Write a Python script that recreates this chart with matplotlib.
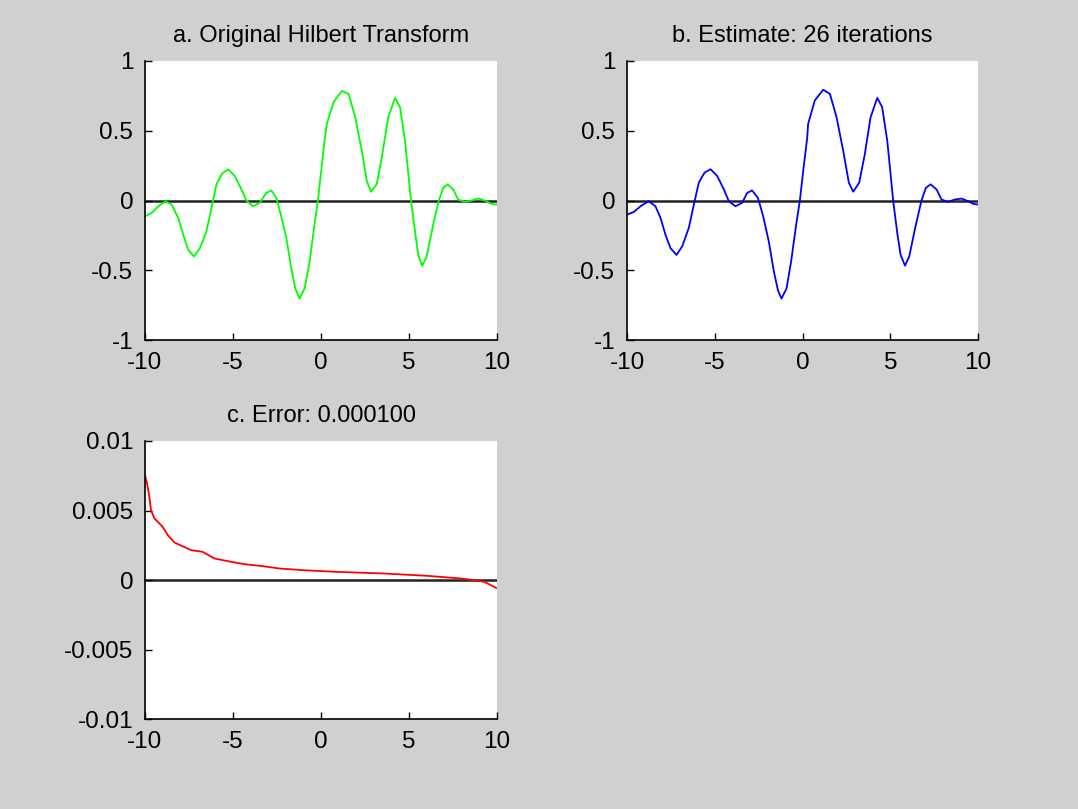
import matplotlib.pyplot as plt

# values
orig_x = [-10, -9.62, -9.24, -8.83, -8.49, -8.11, -7.83, -7.54, -7.22, -6.88, -6.51, -6.22, -5.94,
          -5.62, -5.28, -4.90, -4.52, -4.24, -3.86, -3.48, -3.11, -2.82, -2.54, -2.26, -1.97, -1.69,
          -1.46, -1.22, -0.93, -0.65, -0.37, -0.18, 0.01, 0.20, 0.33, 0.71, 1.18, 1.56, 1.94, 2.32,
          2.60, 2.84, 3.16, 3.45, 3.82, 4.20, 4.49, 4.77, 4.96, 5.11, 5.34, 5.52, 5.75, 6.00, 6.37,
          6.69, 6.94, 7.19, 7.51, 7.79, 8.17, 8.55, 8.92, 9.30, 9.68, 10]
orig_y = [-0.113, -0.089, -0.041, -0.005, -0.029, -0.125, -0.245, -0.354, -0.402, -0.342, -0.221,
          -0.053, 0.116, 0.193, 0.224, 0.176, 0.079, 0.0, -0.041, -0.017, 0.055, 0.072, 0.019,
          -0.113, -0.27, -0.486, -0.631, -0.703, -0.631, -0.438, -0.173, 0.0, 0.212, 0.428, 0.549,
          0.705, 0.785, 0.765, 0.597, 0.356, 0.140, 0.063, 0.116, 0.308, 0.597, 0.736, 0.669, 0.428,
          0.188, 0.0, -0.221, -0.39, -0.467, -0.402, -0.173, 0.0, 0.091, 0.116, 0.079, 0.007, -0.01,
          0.0, 0.014, 0.0, -0.024, -0.03]

est_x = [-10, -9.62, -9.24, -8.77, -8.39, -8.10, -7.82, -7.53, -7.19, -6.87, -6.49, -6.20, -5.92,
         -5.59, -5.25, -4.87, -4.49, -4.21, -3.83, -3.45, -3.16, -2.88, -2.55, -2.25, -1.93, -1.64,
         -1.41, -1.21, -0.92, -0.66, -0.37, -0.16, 0.03, 0.26, 0.31, 0.69, 1.17, 1.55, 1.93, 2.31,
         2.63, 2.88, 3.22, 3.54, 3.87, 4.25, 4.53, 4.82, 5.01, 5.16, 5.39, 5.58, 5.83, 6.07, 6.45,
         6.77, 7.02, 7.29, 7.63, 7.91, 8.29, 8.67, 9.05, 9.43, 9.72, 10]
est_y = [-0.101, -0.082, -0.041, -0.005, -0.041, -0.125, -0.245, -0.342, -0.39, -0.33, -0.197,
         -0.029, 0.128, 0.2, 0.224, 0.176, 0.079, -0.005, -0.041, -0.017, 0.055, 0.072, 0.019,
         -0.113, -0.294, -0.51, -0.643, -0.703, -0.631, -0.438, -0.173, 0.0, 0.212, 0.452, 0.549,
         0.717, 0.794, 0.765, 0.597, 0.356, 0.128, 0.063, 0.128, 0.332, 0.597, 0.736, 0.669, 0.428,
         0.188, -0.005, -0.233, -0.39, -0.467, -0.402, -0.173, 0.0, 0.091, 0.116, 0.079, 0.007,
         -0.01, 0.007, 0.014, -0.005, -0.024, -0.029]

err_x = [-10, -9.89, -9.75, -9.66, -9.47, -9.0, -8.71, -8.33, -7.39, -6.73, -6.06, -5.11, -4.36,
         -3.32, -2.37, -1.04, 0.85, 3.60, 6.06, 7.95, 8.71, 9.28, 9.94]
err_y = [0.00756, 0.00697, 0.0060, 0.00504, 0.00444, 0.00384, 0.00324, 0.00271, 0.00216, 0.00204,
         0.00156, 0.00132, 0.00115, 0.00101, 0.00084, 0.00072, 0.0006, 0.00048, 0.00031, 0.00012,
         0.0, -0.00012, -0.00055]

titles = ["a. Original Hilbert Transform", "b. Estimate: 26 iterations", "c. Error: 0.000100"]
xticks = [-10, -5, 0, 5, 10]
xticklabels = ["-10", "-5", "0", "5", "10"]

plt.rcParams["font.family"] = ["Liberation Sans", "DejaVu Sans"]

bg = "#d0d0d0"
fig = plt.figure(figsize=(10.78, 8.09), dpi=100, facecolor=bg)

ax1 = fig.add_axes([0.1345, 0.5797, 0.3266, 0.3449])
ax2 = fig.add_axes([0.5818, 0.5797, 0.3256, 0.3449])
ax3 = fig.add_axes([0.1345, 0.1108, 0.3266, 0.3441])


def style(ax, title, ylim, yticks, yticklabels):
    ax.set_facecolor("white")
    ax.set_xlim(-10, 10)
    ax.set_ylim(*ylim)
    ax.set_xticks(xticks)
    ax.set_xticklabels(xticklabels)
    ax.set_yticks(yticks)
    ax.set_yticklabels(yticklabels)
    ax.spines["top"].set_visible(False)
    ax.spines["right"].set_visible(False)
    ax.spines["left"].set_linewidth(1.2)
    ax.spines["bottom"].set_linewidth(1.2)
    ax.tick_params(direction="in", length=5, width=1, labelsize=17.5, pad=8.5)
    ax.axhline(0, color="#222222", lw=1.8, zorder=1)
    ax.set_title(title, fontsize=17, pad=14)


ax1.plot(orig_x, orig_y, color="#00ff00", lw=1.3, zorder=2)
style(ax1, titles[0], (-1, 1), [-1, -0.5, 0, 0.5, 1], ["-1", "-0.5", "0", "0.5", "1"])

ax2.plot(est_x, est_y, color="#0000ff", lw=1.3, zorder=2)
style(ax2, titles[1], (-1, 1), [-1, -0.5, 0, 0.5, 1], ["-1", "-0.5", "0", "0.5", "1"])

ax3.plot(err_x, err_y, color="#ff0000", lw=1.3, zorder=2)
style(ax3, titles[2], (-0.01, 0.01), [-0.01, -0.005, 0, 0.005, 0.01],
      ["-0.01", "-0.005", "0", "0.005", "0.01"])

fig.savefig("out.png", dpi=100, facecolor=bg)
